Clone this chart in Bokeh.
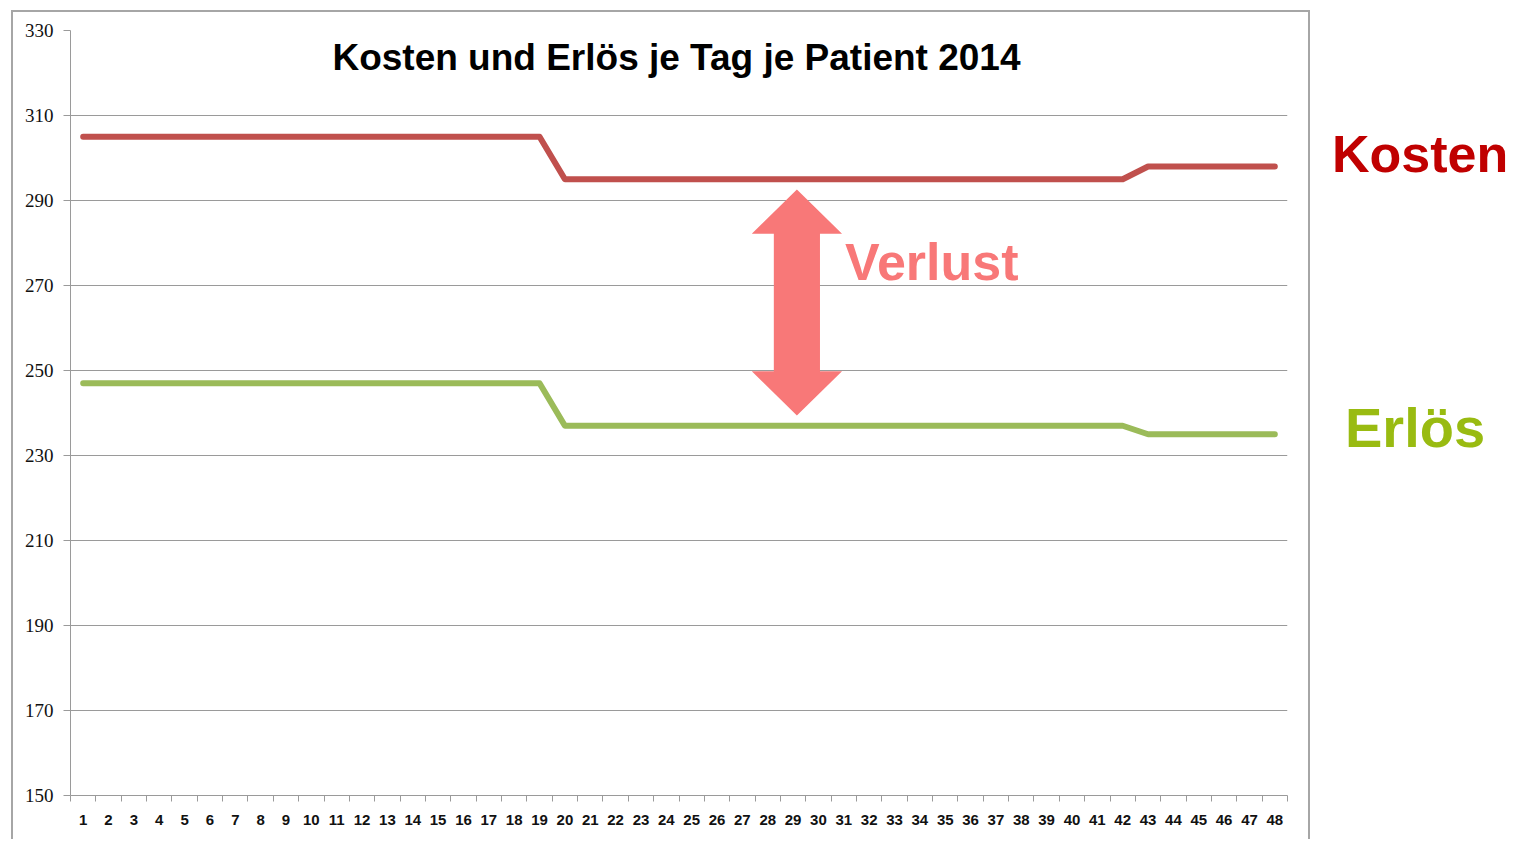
from bokeh.plotting import figure
from bokeh.models import FixedTicker, Label, Div
from bokeh.layouts import row
from bokeh.embed import file_html
from bokeh.resources import INLINE

# ---- data ----
days = list(range(1, 49))
kosten = [305] * 19 + [295] * 23 + [298] * 6
erloes = [247] * 19 + [237] * 23 + [235] * 6
y_ticks = [150, 170, 190, 210, 230, 250, 270, 290, 310, 330]
title_text = "Kosten und Erlös je Tag je Patient 2014"
series_labels = ["Kosten", "Erlös"]
series_label_colors = ["#C00000", "#99BB11"]

# arrow ("Verlust") geometry in data units
arrow_x = 29.15
arrow_top, arrow_head_top_base = 292.6, 282.2
arrow_head_bot_base, arrow_bot = 249.8, 239.4
head_half, shaft_half = 1.78, 0.91

p = figure(width=1299, height=829, output_backend="svg", toolbar_location=None,
           x_range=(0.5, 48.5), y_range=(150, 330),
           min_border_left=57, min_border_right=25, min_border_top=18, min_border_bottom=46,
           margin=(10, 0, 0, 11),
           styles={"border-left": "2px solid #a6a6a6", "border-top": "2px solid #a6a6a6",
                   "border-right": "2px solid #a6a6a6"})
p.outline_line_color = None
p.background_fill_color = "white"
p.border_fill_color = "white"

# axes
p.xaxis.ticker = FixedTicker(ticks=days, minor_ticks=[d + 0.5 for d in range(0, 49)])
p.xaxis.major_tick_line_color = None
p.xaxis.major_tick_out = 0
p.xaxis.major_tick_in = 0
p.xaxis.minor_tick_line_color = "#9a9a9a"
p.xaxis.minor_tick_out = 6
p.xaxis.minor_tick_in = 0
p.xaxis.axis_line_color = "#9a9a9a"
p.xaxis.major_label_text_font = "Liberation Sans"
p.xaxis.major_label_text_font_style = "bold"
p.xaxis.major_label_text_font_size = "15px"
p.xaxis.major_label_text_color = "#111111"
p.xaxis.major_label_standoff = 13

p.yaxis.ticker = FixedTicker(ticks=y_ticks)
p.yaxis.minor_tick_line_color = None
p.yaxis.major_tick_line_color = "#9a9a9a"
p.yaxis.major_tick_out = 7
p.yaxis.major_tick_in = 0
p.yaxis.axis_line_color = "#9a9a9a"
p.yaxis.major_label_text_font = "Liberation Serif"
p.yaxis.major_label_text_font_size = "19px"
p.yaxis.major_label_text_color = "#111111"
p.yaxis.major_label_standoff = 10

p.xgrid.grid_line_color = None
p.ygrid.grid_line_color = "#9a9a9a"
p.ygrid.grid_line_width = 1

# lines
p.line(days, kosten, line_color="#C0504D", line_width=6, line_cap="round", line_join="round")
p.line(days, erloes, line_color="#9BBB59", line_width=6, line_cap="round", line_join="round")

# double arrow
ax = [arrow_x, arrow_x + head_half, arrow_x + shaft_half, arrow_x + shaft_half,
      arrow_x + head_half, arrow_x, arrow_x - head_half, arrow_x - shaft_half,
      arrow_x - shaft_half, arrow_x - head_half]
ay = [arrow_top, arrow_head_top_base, arrow_head_top_base, arrow_head_bot_base,
      arrow_head_bot_base, arrow_bot, arrow_head_bot_base, arrow_head_bot_base,
      arrow_head_top_base, arrow_head_top_base]
p.patch(ax, ay, fill_color="#F87878", line_color=None)

# texts
p.add_layout(Label(x=24.4, y=323.6, text=title_text, text_align="center", text_baseline="middle",
                   text_font="Liberation Sans", text_font_style="bold", text_font_size="37px",
                   text_color="black"))
p.add_layout(Label(x=31.05, y=275.6, text="Verlust", text_align="left", text_baseline="middle",
                   text_font="Liberation Sans", text_font_style="bold", text_font_size="52px",
                   text_color="#F87878"))

label_pos = [(22, 128, 52), (35, 400, 56)]
spans = "".join(
    f'<div style="position:absolute; left:{lx}px; top:{ly}px; line-height:1; '
    f'font-family:\'Liberation Sans\'; font-weight:bold; font-size:{fs}px; color:{c}; '
    f'white-space:nowrap;">{t}</div>'
    for t, c, (lx, ly, fs) in zip(series_labels, series_label_colors, label_pos))
div = Div(text=f'<div style="position:relative; width:205px; height:600px;">{spans}</div>',
          width=205, height=600, margin=(0, 0, 0, 0))

layout = row(p, div)
open("out.html", "w").write(file_html(layout, INLINE))
